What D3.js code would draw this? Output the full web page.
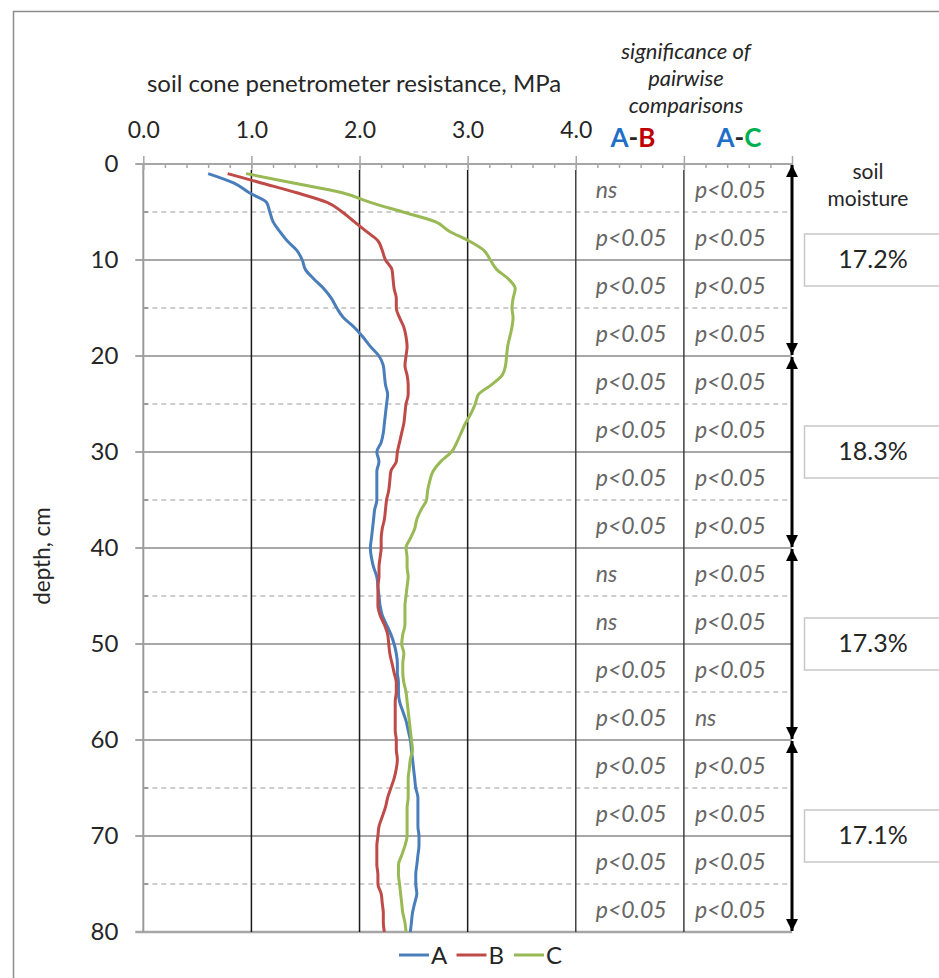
<!DOCTYPE html>
<html>
<head>
<meta charset="utf-8">
<script src="https://cdn.jsdelivr.net/npm/d3@7"></script>
<style>
  body { margin: 0; background: #fff; }
  text { font-family: Lato, "Open Sans", sans-serif; fill: #262626; }
</style>
</head>
<body>
<div id="chart"></div>
<script>
// depth in cm, one reading per cm
var depths = d3.range(1, 81);

// soil cone penetrometer resistance, MPa
var seriesA = [0.60,0.84,0.98,1.14,1.17,1.20,1.26,1.33,1.42,1.47,
  1.50,1.58,1.67,1.74,1.79,1.85,1.95,2.03,2.10,2.18,
  2.22,2.23,2.24,2.26,2.25,2.24,2.23,2.22,2.20,2.16,
  2.18,2.16,2.16,2.16,2.16,2.14,2.13,2.12,2.11,2.10,
  2.11,2.13,2.16,2.17,2.18,2.19,2.21,2.25,2.29,2.32,
  2.34,2.35,2.35,2.36,2.36,2.37,2.40,2.43,2.45,2.47,
  2.48,2.49,2.50,2.51,2.52,2.54,2.54,2.54,2.54,2.55,
  2.55,2.54,2.53,2.52,2.52,2.53,2.51,2.49,2.48,2.47];
var seriesB = [0.78,1.10,1.42,1.70,1.84,1.95,2.06,2.17,2.21,2.24,
  2.30,2.31,2.32,2.34,2.34,2.37,2.41,2.43,2.44,2.43,
  2.42,2.44,2.45,2.45,2.43,2.42,2.41,2.39,2.37,2.35,
  2.34,2.29,2.28,2.27,2.25,2.24,2.23,2.21,2.20,2.20,
  2.19,2.18,2.18,2.17,2.17,2.17,2.19,2.23,2.26,2.27,
  2.28,2.30,2.32,2.34,2.34,2.33,2.33,2.33,2.33,2.34,
  2.34,2.35,2.34,2.32,2.29,2.26,2.24,2.21,2.18,2.17,
  2.16,2.16,2.16,2.17,2.17,2.20,2.21,2.22,2.22,2.23];
var seriesC = [0.95,1.40,1.84,2.10,2.40,2.70,2.83,3.01,3.15,3.21,
  3.27,3.38,3.44,3.42,3.41,3.42,3.41,3.39,3.37,3.36,
  3.35,3.32,3.22,3.10,3.07,3.03,2.98,2.94,2.90,2.85,
  2.75,2.68,2.65,2.63,2.62,2.57,2.53,2.51,2.47,2.43,
  2.44,2.44,2.45,2.44,2.43,2.42,2.42,2.42,2.40,2.39,
  2.41,2.40,2.40,2.41,2.43,2.44,2.45,2.46,2.47,2.48,
  2.49,2.47,2.46,2.45,2.45,2.45,2.44,2.44,2.44,2.44,
  2.42,2.39,2.36,2.36,2.37,2.38,2.39,2.40,2.42,2.43];

var seriesNames = ["A", "B", "C"];
var seriesColors = ["#4a7ebb", "#be4b48", "#98b954"];

// pairwise comparisons, one per 5 cm layer
var layerTops = d3.range(0, 80, 5);
var sigAB = ["ns","p<0.05","p<0.05","p<0.05","p<0.05","p<0.05","p<0.05","p<0.05",
  "ns","ns","p<0.05","p<0.05","p<0.05","p<0.05","p<0.05","p<0.05"];
var sigAC = ["p<0.05","p<0.05","p<0.05","p<0.05","p<0.05","p<0.05","p<0.05","p<0.05",
  "p<0.05","p<0.05","p<0.05","ns","p<0.05","p<0.05","p<0.05","p<0.05"];

// soil moisture per 20 cm
var moistureTop = [0, 20, 40, 60];
var moistureBottom = [20, 40, 60, 80];
var moistureLabel = ["17.2%", "18.3%", "17.3%", "17.1%"];

var xTickValues = [0, 1, 2, 3, 4, 5, 6];
var yTickValues = d3.range(0, 81, 10);

var width = 939, height = 978;

var svg = d3.select("#chart").append("svg")
  .attr("width", width)
  .attr("height", height);

var x = d3.scaleLinear().domain([0, 6]).range([143.3, 792]);
var y = d3.scaleLinear().domain([0, 80]).range([164, 932]);

// chart frame
svg.append("rect")
  .attr("x", 13.5).attr("y", 11.5)
  .attr("width", 1000).attr("height", 1000)
  .style("fill", "none").style("stroke", "#8c8c8c").style("stroke-width", 1.5);

// dashed lines every 5 cm
svg.append("g").selectAll("line")
  .data(d3.range(5, 80, 10))
  .enter().append("line")
  .attr("x1", x(0)).attr("x2", x(6))
  .attr("y1", function(d){ return y(d); })
  .attr("y2", function(d){ return y(d); })
  .style("stroke", "#bdbdbd").style("stroke-width", 1.5)
  .style("stroke-dasharray", "5,4");

// solid lines every 10 cm
svg.append("g").selectAll("line")
  .data(d3.range(10, 81, 10))
  .enter().append("line")
  .attr("x1", x(0) - 8).attr("x2", x(6))
  .attr("y1", function(d){ return y(d); })
  .attr("y2", function(d){ return y(d); })
  .style("stroke", function(d){ return d == 80 ? "#a6a6a6" : "#8a8a8a"; })
  .style("stroke-width", function(d){ return d == 80 ? 2.5 : 1.5; });

// small ticks on the dashed lines
svg.append("g").selectAll("line")
  .data(d3.range(5, 80, 10))
  .enter().append("line")
  .attr("x1", x(0)).attr("x2", x(0) + 5)
  .attr("y1", function(d){ return y(d); })
  .attr("y2", function(d){ return y(d); })
  .style("stroke", "#8a8a8a").style("stroke-width", 1.5);

// vertical lines at 1..5
svg.append("g").selectAll("line")
  .data([1, 2, 3, 4, 5])
  .enter().append("line")
  .attr("x1", function(d){ return x(d); })
  .attr("x2", function(d){ return x(d); })
  .attr("y1", y(0) + 6).attr("y2", y(80))
  .style("stroke", function(d){ return d >= 4 ? "#404040" : "#1a1a1a"; })
  .style("stroke-width", 1.5);

// left axis line
svg.append("line")
  .attr("x1", x(0)).attr("x2", x(0))
  .attr("y1", y(0)).attr("y2", y(80))
  .style("stroke", "#9a9a9a").style("stroke-width", 2);

// top axis
var xAxis = d3.axisTop(x)
  .tickValues(xTickValues)
  .tickSize(8)
  .tickPadding(18)
  .tickFormat(function(d){ return d <= 4 ? d3.format(".1f")(d) : ""; });

var gx = svg.append("g")
  .attr("transform", "translate(0," + y(0) + ")")
  .call(xAxis);
gx.select(".domain").attr("d", "M" + (x(0) - 8) + ",0H" + x(6))
  .style("stroke", "#a6a6a6").style("stroke-width", 2);
gx.selectAll(".tick line").style("stroke", "#a6a6a6").style("stroke-width", 1.5)
  .attr("y2", -8).attr("y1", 6);
gx.selectAll(".tick text")
  .style("font-size", "23px").style("fill", "#262626")
  .style("font-family", "Lato, sans-serif");

var minor = svg.append("g")
  .attr("transform", "translate(0," + y(0) + ")")
  .call(d3.axisTop(x).tickValues(d3.range(0.2, 6, 0.2)).tickSize(-4).tickFormat(""));
minor.select(".domain").remove();
minor.selectAll(".tick line").style("stroke", "#a6a6a6").style("stroke-width", 1.5);

// left axis labels
var yAxis = d3.axisLeft(y).tickValues(yTickValues).tickSize(0).tickPadding(25);
var gy = svg.append("g")
  .attr("transform", "translate(" + x(0) + ",0)")
  .call(yAxis);
gy.select(".domain").remove();
gy.selectAll(".tick text")
  .style("font-size", "24px").style("fill", "#262626")
  .style("font-family", "Lato, sans-serif");

// titles
svg.append("text")
  .attr("x", 354).attr("y", 92)
  .attr("text-anchor", "middle")
  .style("font-size", "24px")
  .text("soil cone penetrometer resistance, MPa");

svg.append("text")
  .attr("transform", "translate(50,556) rotate(-90)")
  .attr("text-anchor", "middle")
  .style("font-size", "22.5px")
  .text("depth, cm");

var sigTitle = ["significance of", "pairwise", "comparisons"];
svg.append("g").selectAll("text")
  .data(sigTitle)
  .enter().append("text")
  .attr("x", 686)
  .attr("y", function(d, i){ return 59 + i * 27; })
  .attr("text-anchor", "middle")
  .style("font-size", "22px").style("font-style", "italic")
  .text(function(d){ return d; });

// column headers A-B, A-C
function header(cx, second, secondColor) {
  var t = svg.append("text")
    .attr("x", cx).attr("y", 147)
    .attr("text-anchor", "middle")
    .style("font-size", "26px").style("font-weight", "bold");
  t.append("tspan").style("fill", "#1f6fc8").text("A");
  t.append("tspan").style("fill", "#262626").text("-");
  t.append("tspan").style("fill", secondColor).text(second);
}
header((x(4) + x(5)) / 2 + 3, "B", "#c00000");
header((x(5) + x(6)) / 2 + 1, "C", "#00b050");

// significance texts
function sigColumn(vals, left) {
  svg.append("g").selectAll("text")
    .data(vals)
    .enter().append("text")
    .attr("x", left)
    .attr("y", function(d, i){ return y(layerTops[i] + 2.5) + 10; })
    .style("font-size", "23px").style("font-style", "italic")
    .style("fill", "#666666")
    .text(function(d){ return d; });
}
sigColumn(sigAB, x(4) + 20);
sigColumn(sigAC, x(5) + 11);

// curves
var allSeries = [seriesA, seriesB, seriesC];
var line = d3.line()
  .x(function(d){ return x(d[1]); })
  .y(function(d){ return y(d[0]); })
  .curve(d3.curveMonotoneY);

svg.append("g").selectAll("path")
  .data(allSeries)
  .enter().append("path")
  .attr("d", function(s){ return line(d3.zip(depths, s)); })
  .style("fill", "none")
  .style("stroke", function(s, i){ return seriesColors[i]; })
  .style("stroke-width", 3)
  .style("stroke-linejoin", "round");

// soil moisture arrows
var defs = svg.append("defs");
defs.append("marker")
  .attr("id", "head")
  .attr("viewBox", "0 0 10 10")
  .attr("refX", 10).attr("refY", 5)
  .attr("markerWidth", 4).attr("markerHeight", 4)
  .attr("markerUnits", "strokeWidth")
  .attr("orient", "auto-start-reverse")
  .append("path")
  .attr("d", "M0,0L10,5L0,10Z")
  .style("fill", "#000");

svg.append("g").selectAll("line")
  .data(moistureTop)
  .enter().append("line")
  .attr("x1", x(6)).attr("x2", x(6))
  .attr("y1", function(d){ return y(d) + 1; })
  .attr("y2", function(d, i){ return y(moistureBottom[i]) - 1; })
  .attr("marker-start", "url(#head)")
  .attr("marker-end", "url(#head)")
  .style("stroke", "#000").style("stroke-width", 3);

svg.append("text")
  .attr("x", 868).attr("y", 179)
  .attr("text-anchor", "middle").style("font-size", "21px")
  .text("soil");
svg.append("text")
  .attr("x", 868).attr("y", 206)
  .attr("text-anchor", "middle").style("font-size", "21px")
  .text("moisture");

var mbox = svg.append("g").selectAll("g")
  .data(moistureLabel)
  .enter().append("g")
  .attr("transform", function(d, i){
    return "translate(0," + y((moistureTop[i] + moistureBottom[i]) / 2) + ")";
  });
mbox.append("rect")
  .attr("x", 804.5).attr("y", -26)
  .attr("width", 160).attr("height", 52)
  .style("fill", "#fff").style("stroke", "#c8c8c8").style("stroke-width", 1.5);
mbox.append("text")
  .attr("x", 873).attr("y", 8)
  .attr("text-anchor", "middle").style("font-size", "25px")
  .text(function(d){ return d; });

// legend
var legend = svg.append("g").selectAll("g")
  .data(seriesNames)
  .enter().append("g")
  .attr("transform", function(d, i){ return "translate(" + (399 + i * 57.5) + ",955)"; });
legend.append("line")
  .attr("x1", 0).attr("x2", 30)
  .style("stroke", function(d, i){ return seriesColors[i]; })
  .style("stroke-width", 3);
legend.append("text")
  .attr("x", 32).attr("y", 8.5)
  .style("font-size", "24px")
  .text(function(d){ return d; });
</script>
</body>
</html>
